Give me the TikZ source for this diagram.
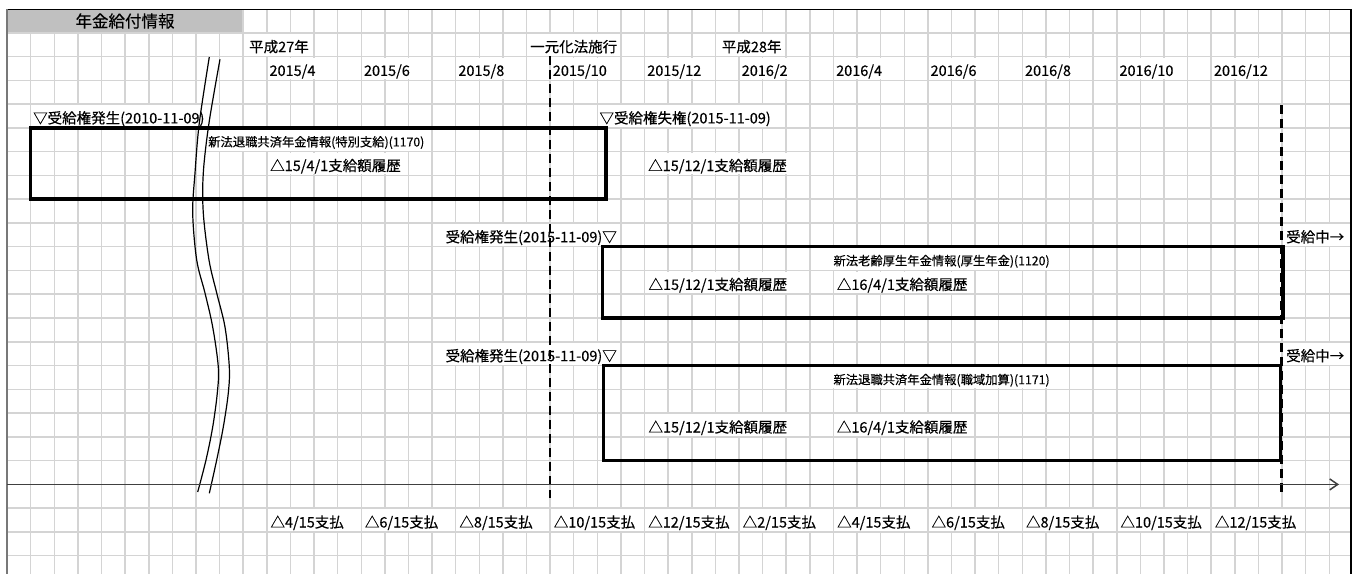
\documentclass[tikz,border=0pt]{standalone}
\usepackage{fontspec}
\setmainfont{Noto Sans CJK JP}[BoldFont=Noto Sans CJK JP, BoldFeatures={FakeBold=0.35}]
\usetikzlibrary{arrows.meta}
\definecolor{gridc}{RGB}{212,212,212}
\definecolor{hdrc}{RGB}{192,192,192}
\definecolor{axc}{RGB}{64,64,64}
\definecolor{leftc}{RGB}{120,120,120}
\tikzset{
  gridline/.style={draw=gridc, line width=1.5pt},
  lbl/.style={font=\fontsize{14.5}{14.5}\selectfont\bfseries, anchor=base west, inner xsep=1pt, inner ysep=0pt, text height=18.4pt, text depth=3.4pt, fill=white},
  lblsmall/.style={lbl, font=\fontsize{12.3}{12.3}\selectfont\bfseries, text height=17.6pt, text depth=4.2pt},
  lblE/.style={lbl, anchor=base east},
  boxline/.style={draw=black, line width=3.5pt},
  dashline/.style={draw=black, line width=2.2pt, dash pattern=on 9pt off 5pt},
  breakline/.style={draw=black, line width=1.2pt},
  axisline/.style={draw=axc, line width=1.5pt, -{Straight Barb[length=8pt,width=11pt]}},
}
\begin{document}
\begin{tikzpicture}[x=1pt,y=-1pt]
\useasboundingbox (0,0) rectangle (1359,574);
\fill[white] (0,0) rectangle (1359,574);
% grid
\foreach \k in {1,...,56} \draw[gridline] ({7.1+23.61*\k},9) -- ({7.1+23.61*\k},574);
\foreach \j in {1,...,23} \draw[gridline] (7,{9+23.77*\j}) -- (1351,{9+23.77*\j});
% header
\fill[hdrc] (7,9) rectangle (242.4,32.0);
\node[font=\fontsize{16.5}{16.5}\selectfont\bfseries, inner sep=0pt] (hdr) at (125,21) {年金給付情報};
% frame
\draw[black, line width=0.8pt] (7,9) -- (1351,9);
\draw[leftc, line width=1.5pt] (7,9) -- (7,574);
\draw[black, line width=2.5pt] (1351,9) -- (1351,574);
% top labels
\node[lbl] (h27) at (248,52.15) {平成27年};
\node[lbl] (ichi) at (529,52.15) {一元化法施行};
\node[lbl] (h28) at (720.7,52.15) {平成28年};
\foreach \k/\yr/\mo in {11/2015/4,15/2015/6,19/2015/8,23/2015/10,27/2015/12,31/2016/2,35/2016/4,39/2016/6,43/2016/8,47/2016/10,51/2016/12}
  \node[lbl] (d\k) at ({7.1+23.61*\k+1.5},75.9) {\yr/\mo};
% row texts
\node[lbl] (s1) at (32,123.4) {▽受給権発生(2010-11-09)};
\node[lbl] (e1) at (598.3,123.4) {▽受給権失権(2015-11-09)};
\node[lblsmall] (n1) at (207,146.45) {新法退職共済年金情報(特別支給)(1170)};
\node[lbl] (a1) at (269,171.0) {△15/4/1支給額履歴};
\node[lbl] (a2) at (647,171.0) {△15/12/1支給額履歴};
\node[lblE] (s2) at (618,242.3) {受給権発生(2015-11-09)▽};
\node[lbl] (r2) at (1285,242.3) {受給中→};
\node[lblsmall] (n2) at (832.3,265.3) {新法老齢厚生年金情報(厚生年金)(1120)};
\node[lbl] (b1) at (647.3,289.9) {△15/12/1支給額履歴};
\node[lbl] (b2) at (835.7,289.9) {△16/4/1支給額履歴};
\node[lblE] (s3) at (618,361.2) {受給権発生(2015-11-09)▽};
\node[lbl] (r3) at (1285,361.2) {受給中→};
\node[lblsmall] (n3) at (832.3,384.2) {新法退職共済年金情報(職域加算)(1171)};
\node[lbl] (c1) at (647.3,432.5) {△15/12/1支給額履歴};
\node[lbl] (c2) at (835.7,432.5) {△16/4/1支給額履歴};
\foreach \k/\mo in {11/4,15/6,19/8,23/10,27/12,31/2,35/4,39/6,43/8,47/10,51/12}
  \node[lbl] (p\k) at ({7.1+23.61*\k+2.5},527.5) {△\mo/15支払};
% boxes
\draw[boxline] (30.7,127.9) rectangle (606,199.2);
\draw[boxline] (602.7,246.7) rectangle (1283,318);
\draw[boxline] (603.5,365.6) rectangle (1280.5,460.6);
% dashed lines
\coordinate (dA1) at (550.1,56);
\coordinate (dA2) at (550.1,498);
\coordinate (dB1) at (1281.5,105);
\coordinate (dB2) at (1281.5,495);
\draw[dashline] (dA1) -- (dA2);
\draw[dashline] (dB1) -- (dB2);
% break lines
\draw[breakline] plot[smooth, tension=0.55] coordinates {(209.3,57) (199.3,123) (195,173) (192.7,213) (196.7,260) (205,293) (212.7,327) (218.3,367) (217.3,393) (212.7,427) (206,460) (197.7,492)};
\draw[breakline] plot[smooth, tension=0.55] coordinates {(220,59.3) (209,123) (203.3,173) (203.3,213) (209,260) (216.7,293) (225,327) (229.3,367) (228.3,393) (223.3,427) (216.7,460) (209.3,493.3)};
% axis
\coordinate (axL) at (7,484.4);
\coordinate (axR) at (1339,484.4);
\draw[axisline] (axL) -- (axR);
\end{tikzpicture}
\end{document}
